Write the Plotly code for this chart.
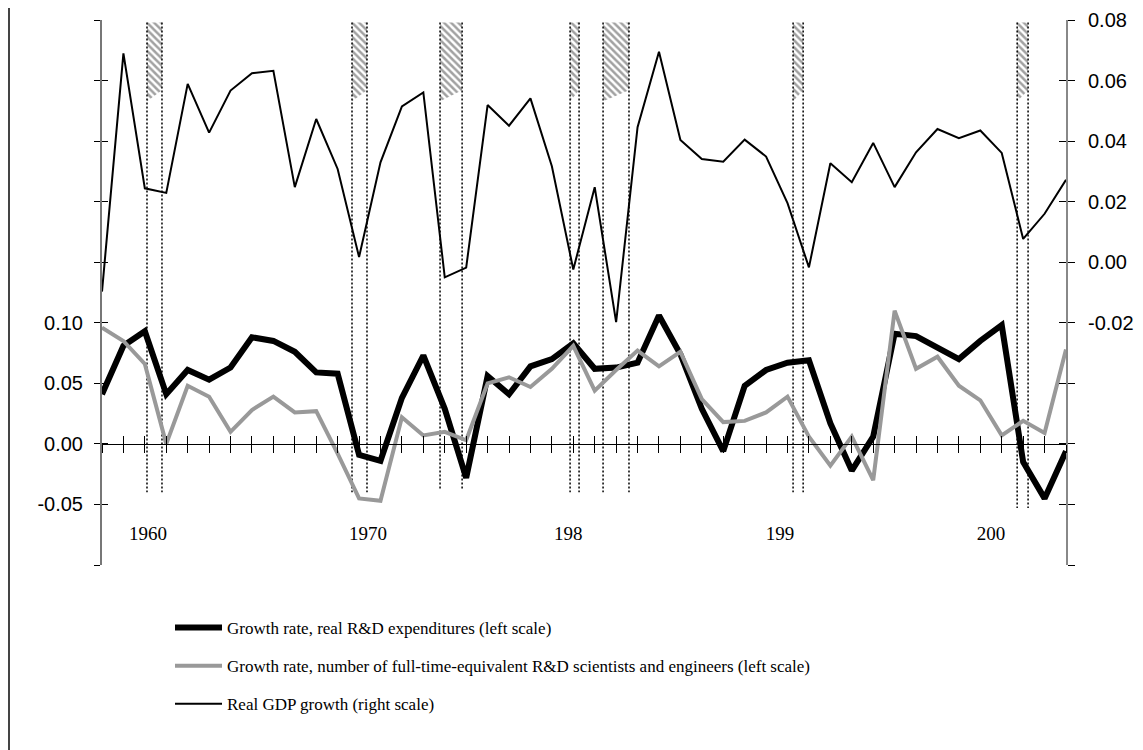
import plotly.graph_objects as go

# ---------------- data ----------------
years = list(range(1958, 2004))

rd_expenditure_growth = [
    0.041, 0.081, 0.093, 0.041, 0.061, 0.053, 0.063, 0.088, 0.085, 0.076,
    0.059, 0.058, -0.009, -0.014, 0.038, 0.073, 0.029, -0.028, 0.056, 0.041,
    0.064, 0.070, 0.083, 0.062, 0.063, 0.067, 0.106, 0.074, 0.029, -0.006,
    0.048, 0.061, 0.067, 0.069, 0.017, -0.022, 0.006, 0.091, 0.089, 0.080,
    0.070, 0.085, 0.098, -0.015, -0.045, -0.006,
]

rd_scientists_growth = [
    0.096, 0.085, 0.066, 0.000, 0.048, 0.039, 0.010, 0.028, 0.039, 0.026,
    0.027, -0.008, -0.045, -0.047, 0.022, 0.007, 0.010, 0.003, 0.050, 0.055,
    0.047, 0.062, 0.081, 0.044, 0.061, 0.077, 0.064, 0.076, 0.037, 0.018,
    0.019, 0.026, 0.039, 0.006, -0.018, 0.006, -0.030, 0.110, 0.062, 0.072,
    0.048, 0.036, 0.007, 0.019, 0.009, 0.078,
]

real_gdp_growth = [
    -0.0097, 0.0690, 0.0244, 0.0229, 0.0589, 0.0428, 0.0567, 0.0624, 0.0632, 0.0248,
    0.0473, 0.0308, 0.0017, 0.0330, 0.0515, 0.0561, -0.0050, -0.0018, 0.0519, 0.0451,
    0.0541, 0.0317, -0.0024, 0.0248, -0.0198, 0.0446, 0.0695, 0.0404, 0.0341, 0.0332,
    0.0405, 0.0349, 0.0195, -0.0017, 0.0327, 0.0264, 0.0394, 0.0248, 0.0363, 0.0440,
    0.0410, 0.0435, 0.0361, 0.0077, 0.0160, 0.0272,
]

# recession bands (decimal years, as drawn)
recession_start = [1960.10, 1969.67, 1973.78, 1979.85, 1981.39, 1990.26, 2000.72]
recession_end = [1960.80, 1970.37, 1974.81, 1980.27, 1982.60, 1990.73, 2001.23]
recession_line_bottom = [-0.040, -0.040, -0.037, -0.040, -0.040, -0.040, -0.053]

# axis tick values / labels
left_tickvals = [-0.10, -0.05, 0.00, 0.05, 0.10, 0.15, 0.20, 0.25, 0.30, 0.35]
left_ticktext = ["", "-0.05", "0.00", "0.05", "0.10", "", "", "", "", ""]
right_tickvals = [-0.10, -0.08, -0.06, -0.04, -0.02, 0.00, 0.02, 0.04, 0.06, 0.08]
right_ticktext = ["", "", "", "", "-0.02", "0.00", "0.02", "0.04", "0.06", "0.08"]
year_label_pos = [1960.15, 1970.42, 1979.76, 1989.65, 1999.5]
year_label_text = ["1960", "1970", "198", "199", "200"]

series_names = [
    "Growth rate, real R&D expenditures (left scale)",
    "Growth rate, number of full-time-equivalent R&D scientists and engineers (left scale)",
    "Real GDP growth (right scale)",
]

# ---------------- figure ----------------
LEFT_RANGE = [-0.10, 0.35]
RIGHT_RANGE = [-0.10, 0.08]
X_RANGE = [years[0], years[-1]]
HATCH_TOP = 0.348
HATCH_BOT_L = 0.283
HATCH_BOT_R = 0.292

# page body has an 8px margin; figure geometry compensates for it
FIG_W, FIG_H = 1135, 742
M_L, M_R, M_T, M_B = 94, 77, 12, 185
PLOT_W = FIG_W - M_L - M_R
PLOT_H = FIG_H - M_T - M_B

fig = go.Figure()

# hatched tops of recession bands + dotted edges
for s, e, b in zip(recession_start, recession_end, recession_line_bottom):
    fig.add_trace(go.Scatter(
        x=[s, e, e, s, s], y=[HATCH_TOP, HATCH_TOP, HATCH_BOT_R, HATCH_BOT_L, HATCH_TOP],
        mode="lines", fill="toself", line=dict(width=0, color="rgba(0,0,0,0)"),
        fillcolor="rgba(0,0,0,0)",
        fillpattern=dict(shape="\\", fgcolor="#444444", bgcolor="white", size=5, solidity=0.5),
        showlegend=False, hoverinfo="skip", xaxis="x", yaxis="y",
    ))
    fig.add_trace(go.Scatter(
        x=[s, s, None, e, e], y=[HATCH_TOP, b, None, HATCH_TOP, b],
        mode="lines", line=dict(color="black", width=1.5, dash="2px,2px"),
        showlegend=False, hoverinfo="skip", xaxis="x", yaxis="y",
    ))

fig.add_trace(go.Scatter(
    x=years, y=rd_expenditure_growth, mode="lines", name=series_names[0],
    line=dict(color="black", width=6), legendgroup="a", legendrank=1,
    xaxis="x", yaxis="y",
))
fig.add_trace(go.Scatter(
    x=years, y=rd_scientists_growth, mode="lines", name=series_names[1],
    line=dict(color="#999999", width=4), legendgroup="b", legendrank=2,
    xaxis="x", yaxis="y",
))
fig.add_trace(go.Scatter(
    x=years, y=real_gdp_growth, mode="lines", name=series_names[2],
    line=dict(color="black", width=2), legendgroup="c", legendrank=3,
    xaxis="x", yaxis="y2",
))

# empty traces so that the tick-only overlay axes get drawn
for xa, ya in [("x2", "y3"), ("x3", "y4")]:
    fig.add_trace(go.Scatter(x=[], y=[], xaxis=xa, yaxis=ya, showlegend=False,
                             hoverinfo="skip", mode="lines"))

zero_pos = (0 - LEFT_RANGE[0]) / (LEFT_RANGE[1] - LEFT_RANGE[0])
label_pos = 45 / PLOT_H  # year labels sit near the bottom of the plot area

axis_font = dict(family="Liberation Sans, Arial, sans-serif", size=20, color="black")
serif_font = dict(family="Liberation Serif, Times New Roman, serif", size=19, color="black")

fig.update_layout(
    width=FIG_W, height=FIG_H,
    margin=dict(l=M_L, r=M_R, t=M_T, b=M_B, autoexpand=False),
    paper_bgcolor="white", plot_bgcolor="white",
    showlegend=True,
    legend=dict(
        x=(170 - 102) / PLOT_W, xanchor="left", y=-45 / PLOT_H, yanchor="top",
        font=dict(family="Liberation Serif, Times New Roman, serif", size=17, color="black"),
        tracegroupgap=13, itemwidth=47, bgcolor="rgba(0,0,0,0)",
    ),
    xaxis=dict(
        range=X_RANGE, anchor="free", position=zero_pos,
        showline=True, linecolor="black", linewidth=1,
        ticks="outside", ticklen=8, tickcolor="black", tickwidth=1,
        tickvals=years, showticklabels=False, showgrid=False, zeroline=False,
    ),
    xaxis2=dict(
        range=X_RANGE, overlaying="x", anchor="free", position=zero_pos,
        showline=False, ticks="inside", ticklen=8, tickcolor="black", tickwidth=1,
        tickvals=years, showticklabels=False, showgrid=False, zeroline=False,
    ),
    xaxis3=dict(
        range=X_RANGE, overlaying="x", anchor="free", position=label_pos,
        showline=False, ticks="", tickvals=year_label_pos, ticktext=year_label_text,
        tickfont=serif_font, showgrid=False, zeroline=False,
    ),
    yaxis=dict(
        range=LEFT_RANGE, tickvals=left_tickvals, ticktext=left_ticktext,
        ticks="outside", ticklen=6, tickcolor="black", tickwidth=1,
        showline=True, linecolor="#777777", linewidth=2,
        tickfont=axis_font, ticklabelstandoff=7,
        showgrid=False, zeroline=False, anchor="x",
    ),
    yaxis3=dict(
        range=LEFT_RANGE, overlaying="y", side="left", anchor="x",
        tickvals=left_tickvals, ticks="inside", ticklen=6, tickcolor="black", tickwidth=1,
        showticklabels=False, showline=False, showgrid=False, zeroline=False,
    ),
    yaxis2=dict(
        range=RIGHT_RANGE, overlaying="y", side="right", anchor="x",
        tickvals=right_tickvals, ticktext=right_ticktext,
        ticks="outside", ticklen=7, tickcolor="black", tickwidth=1,
        showline=True, linecolor="#888888", linewidth=2,
        tickfont=axis_font, ticklabelstandoff=9,
        showgrid=False, zeroline=False,
    ),
    yaxis4=dict(
        range=RIGHT_RANGE, overlaying="y", side="right", anchor="x",
        tickvals=right_tickvals, ticks="inside", ticklen=7, tickcolor="black", tickwidth=1,
        showticklabels=False, showline=False, showgrid=False, zeroline=False,
    ),
    shapes=[dict(
        type="line", xref="paper", yref="paper",
        x0=(1 - M_L) / PLOT_W, x1=(1 - M_L) / PLOT_W,
        y0=(PLOT_H + M_T) / PLOT_H, y1=-(M_B) / PLOT_H,
        line=dict(color="#444444", width=2),
    )],
)

fig.write_html("out.html")
